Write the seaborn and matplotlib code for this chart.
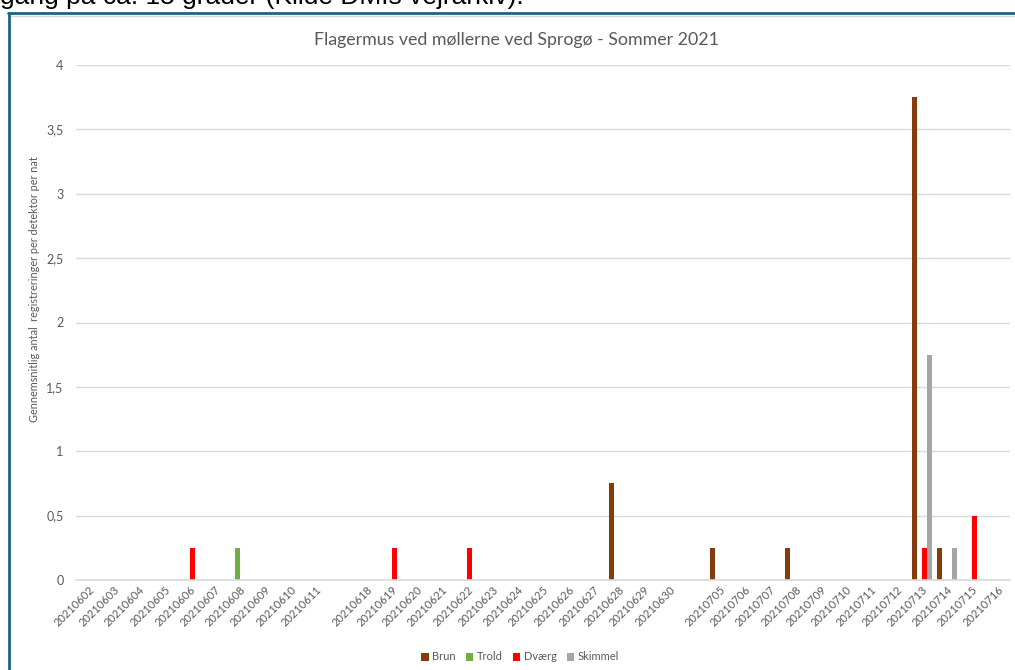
import matplotlib
matplotlib.use("Agg")
import matplotlib.pyplot as plt
from matplotlib.lines import Line2D
from matplotlib.ticker import FuncFormatter, MultipleLocator
import pandas as pd
import seaborn as sns

# Nights with detector data (two blank slots mark the pauses in the survey)
dates = [
    "20210602", "20210603", "20210604", "20210605", "20210606", "20210607",
    "20210608", "20210609", "20210610", "20210611",
    "20210618", "20210619", "20210620", "20210621", "20210622", "20210623",
    "20210624", "20210625", "20210626", "20210627", "20210628", "20210629",
    "20210630",
    "20210705", "20210706", "20210707", "20210708", "20210709", "20210710",
    "20210711", "20210712", "20210713", "20210714", "20210715", "20210716",
]
order = dates[:10] + [""] + dates[10:23] + [" "] + dates[23:]

species = ["Brun", "Trold", "Dværg", "Skimmel"]
colors = ["#843C0C", "#70AD47", "#FF0000", "#A5A5A5"]

# Average registrations per detector per night, keyed by date
brun = {"20210628": 0.75, "20210705": 0.25, "20210708": 0.25,
        "20210713": 3.75, "20210714": 0.25}
trold = {"20210608": 0.25}
dvaerg = {"20210606": 0.25, "20210619": 0.25, "20210622": 0.25,
          "20210713": 0.25, "20210715": 0.5}
skimmel = {"20210713": 1.75, "20210714": 0.25}

rows = []
for name, series in zip(species, [brun, trold, dvaerg, skimmel]):
    for d in dates:
        rows.append({"dato": d, "art": name, "antal": series.get(d, 0.0)})
df = pd.DataFrame(rows)

sns.set_theme(style="white")
plt.rcParams["font.family"] = ["Lato", "DejaVu Sans"]

fig = plt.figure(figsize=(10.15, 6.7), dpi=100)
ax = fig.add_axes([76 / 1015, 1 - 580 / 670, 934 / 1015, (580 - 65) / 670])

sns.barplot(data=df, x="dato", y="antal", hue="art", order=order,
            hue_order=species, palette=colors, saturation=1, width=0.8,
            linewidth=0, errorbar=None, ax=ax, legend=True)

ax.set_ylim(0, 4)
ax.set_xlim(-0.5, len(order) - 0.5)
ax.yaxis.set_major_locator(MultipleLocator(0.5))
ax.yaxis.set_major_formatter(FuncFormatter(lambda v, _: f"{v:g}".replace(".", ",")))
ax.grid(axis="y", color="#D9D9D9", linewidth=1)
ax.set_axisbelow(True)
sns.despine(ax=ax, left=True, top=True, right=True)
ax.spines["bottom"].set_color("#D9D9D9")
ax.spines["bottom"].set_linewidth(1.2)
ax.tick_params(axis="both", length=0, colors="#595959")
ax.tick_params(axis="y", labelsize=9, pad=9)
ax.tick_params(axis="x", labelsize=8, pad=3)
for lab in ax.get_xticklabels():
    lab.set_rotation(45)
    lab.set_ha("right")
    lab.set_rotation_mode("anchor")

ax.set_xlabel("")
ax.set_ylabel("Gennemsnitlig antal  registreringer per detektor per nat",
              fontsize=7.8, color="#595959")
ax.yaxis.set_label_coords(-(76 - 40) / 934, (580 - 289) / 515)

fig.text(516 / 1015, 1 - 40 / 670, "Flagermus ved møllerne ved Sprogø - Sommer 2021",
         fontsize=12.8, color="#595959", ha="center", va="center")

ax.get_legend().remove()
handles, labels = ax.get_legend_handles_labels()
fig.legend(handles, labels, loc="center", bbox_to_anchor=(520 / 1015, 1 - 657 / 670),
           ncol=4, frameon=False, fontsize=8, labelcolor="#595959",
           handlelength=0.7, handleheight=0.7, handletextpad=0.3,
           columnspacing=0.9)

# Surrounding frame of the embedded chart and the cut-off caption line above
fig.add_artist(Line2D([8 / 1015, 1], [1 - 13 / 670] * 2, transform=fig.transFigure,
                      color="#1F6582", linewidth=2))
fig.add_artist(Line2D([8 / 1015, 1], [1 - 15.5 / 670] * 2, transform=fig.transFigure,
                      color="#D0D8DC", linewidth=0.8))
fig.add_artist(Line2D([9 / 1015] * 2, [0, 1 - 13 / 670], transform=fig.transFigure,
                      color="#1F6582", linewidth=2))
fig.text(0, 1 - 4 / 670, "gang på ca. 15 grader (Kilde DMIs vejrarkiv).",
         fontsize=19, family=["Liberation Sans", "DejaVu Sans"], color="black",
         va="baseline", ha="left")

fig.savefig("out.png", dpi=100)
